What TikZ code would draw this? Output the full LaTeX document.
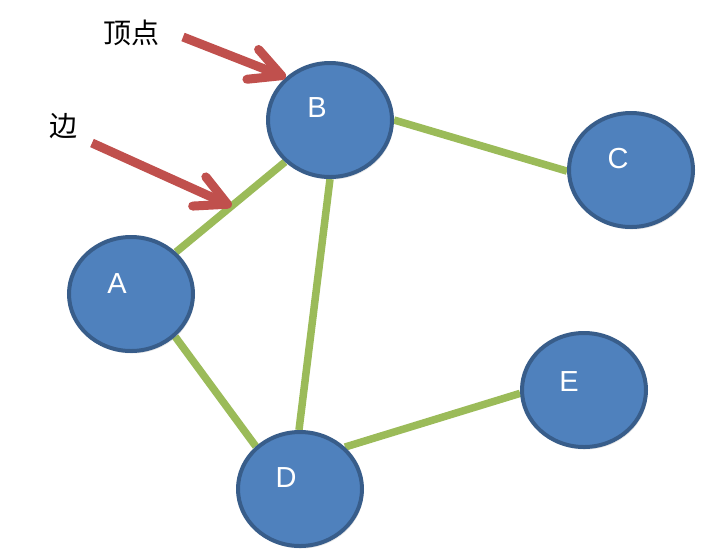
\documentclass[tikz,border=0pt]{standalone}
\usepackage{fontspec}
\setmainfont{Liberation Sans}
\newfontfamily\cjkfont{Noto Sans CJK SC}
\usetikzlibrary{arrows.meta,shapes.geometric,backgrounds,shadows}
\definecolor{nodeblue}{HTML}{4F81BD}
\definecolor{nodeborder}{HTML}{385D8A}
\definecolor{edgegreen}{HTML}{9BBB59}
\definecolor{arrowred}{HTML}{C0504D}
\begin{document}
\begin{tikzpicture}[x=1pt,y=-1pt,
  vertex/.style={ellipse, draw=nodeborder, fill=nodeblue, line width=4pt,
    minimum width=124pt, minimum height=114pt, inner sep=0pt,
    drop shadow={shadow xshift=1.5pt, shadow yshift=-2.5pt, opacity=0.2}},
  vlabel/.style={text=white, font=\fontsize{29}{29}\selectfont, inner sep=0pt},
  edgeline/.style={draw=edgegreen, line width=7.5pt},
  pointer/.style={draw=arrowred, line width=9pt,
    -{Straight Barb[length=31pt,width=32pt,round]}},
  caption/.style={font=\cjkfont\fontsize{28}{28}\selectfont, text=black, inner sep=0pt}]
\useasboundingbox (0,0) rectangle (714,558);

\node[vertex, label={[vlabel, xshift=-13pt, yshift=12pt]center:B}] (B) at (330,120) {};
\node[vertex, label={[vlabel, xshift=-13pt, yshift=11pt]center:C}] (C) at (631,170) {};
\node[vertex, label={[vlabel, xshift=-14pt, yshift=10pt]center:A}] (A) at (131,294) {};
\node[vertex, label={[vlabel, xshift=-14pt, yshift=11pt]center:D}] (D) at (300,489) {};
\node[vertex, label={[vlabel, xshift=-15pt, yshift=8pt]center:E}] (E) at (584,390) {};

\begin{pgfonlayer}{background}
\draw[edgeline] (B.0) -- (C.181);
\draw[edgeline] (B.223) -- coordinate[pos=0.49] (ab) (A.43);
\draw[edgeline] (B.270) -- (D.91);
\draw[edgeline] (A.316) -- (D.136);
\draw[edgeline] (D.43) -- (E.183);
\end{pgfonlayer}

\node[caption] (t1) at (131,33) {顶点};
\node[caption] (t2) at (63,126) {边};

\coordinate (p1) at (183,37);
\coordinate (p2) at (92,143);
\draw[pointer] (p1) -- (B.136);
\draw[pointer] (p2) -- (ab);
\end{tikzpicture}
\end{document}
